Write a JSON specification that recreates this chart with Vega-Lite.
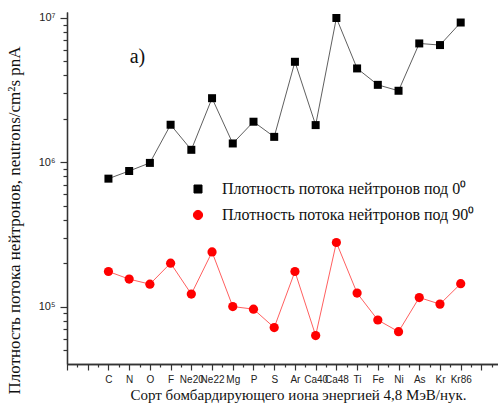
{
  "$schema": "https://vega.github.io/schema/vega-lite/v6.json",
  "autosize": {"type": "none"},
  "padding": {"left": 67, "top": 12, "right": 0, "bottom": 47},
  "width": 431,
  "height": 352,
  "background": "white",
  "config": {
    "view": {"stroke": null},
    "axis": {
      "grid": false,
      "domainColor": "#333",
      "domainWidth": 1.3,
      "tickColor": "#333",
      "tickWidth": 1.2,
      "labelFont": "Liberation Sans",
      "labelColor": "#222",
      "titleFont": "Liberation Serif",
      "titleFontWeight": "normal",
      "titleColor": "#111",
      "titleFontSize": 15
    },
    "legend": {
      "orient": "none",
      "legendX": 123,
      "legendY": 169,
      "title": null,
      "padding": 0,
      "symbolSize": 400,
      "symbolStrokeWidth": 1,
      "rowPadding": 10,
      "labelOffset": 16,
      "labelFont": "Liberation Serif",
      "labelFontSize": 16,
      "labelColor": "#111",
      "labelLimit": 400
    }
  },
  "datasets": {
    "flux": [
      {"n": 1, "ion": "C", "angle": "0", "flux": 770000},
      {"n": 2, "ion": "N", "angle": "0", "flux": 870000},
      {"n": 3, "ion": "O", "angle": "0", "flux": 990000},
      {"n": 4, "ion": "F", "angle": "0", "flux": 1820000},
      {"n": 5, "ion": "Ne20", "angle": "0", "flux": 1220000},
      {"n": 6, "ion": "Ne22", "angle": "0", "flux": 2780000},
      {"n": 7, "ion": "Mg", "angle": "0", "flux": 1350000},
      {"n": 8, "ion": "P", "angle": "0", "flux": 1910000},
      {"n": 9, "ion": "S", "angle": "0", "flux": 1500000},
      {"n": 10, "ion": "Ar", "angle": "0", "flux": 4970000},
      {"n": 11, "ion": "Ca40", "angle": "0", "flux": 1810000},
      {"n": 12, "ion": "Ca48", "angle": "0", "flux": 10000000},
      {"n": 13, "ion": "Ti", "angle": "0", "flux": 4470000},
      {"n": 14, "ion": "Fe", "angle": "0", "flux": 3440000},
      {"n": 15, "ion": "Ni", "angle": "0", "flux": 3130000},
      {"n": 16, "ion": "As", "angle": "0", "flux": 6660000},
      {"n": 17, "ion": "Kr", "angle": "0", "flux": 6490000},
      {"n": 18, "ion": "Kr86", "angle": "0", "flux": 9300000},
      {"n": 1, "ion": "C", "angle": "90", "flux": 175000},
      {"n": 2, "ion": "N", "angle": "90", "flux": 155000},
      {"n": 3, "ion": "O", "angle": "90", "flux": 143000},
      {"n": 4, "ion": "F", "angle": "90", "flux": 200000},
      {"n": 5, "ion": "Ne20", "angle": "90", "flux": 122000},
      {"n": 6, "ion": "Ne22", "angle": "90", "flux": 239000},
      {"n": 7, "ion": "Mg", "angle": "90", "flux": 100000},
      {"n": 8, "ion": "P", "angle": "90", "flux": 96000},
      {"n": 9, "ion": "S", "angle": "90", "flux": 71500},
      {"n": 10, "ion": "Ar", "angle": "90", "flux": 175000},
      {"n": 11, "ion": "Ca40", "angle": "90", "flux": 63000},
      {"n": 12, "ion": "Ca48", "angle": "90", "flux": 278000},
      {"n": 13, "ion": "Ti", "angle": "90", "flux": 124000},
      {"n": 14, "ion": "Fe", "angle": "90", "flux": 80700},
      {"n": 15, "ion": "Ni", "angle": "90", "flux": 67000},
      {"n": 16, "ion": "As", "angle": "90", "flux": 115500},
      {"n": 17, "ion": "Kr", "angle": "90", "flux": 104000},
      {"n": 18, "ion": "Kr86", "angle": "90", "flux": 144000}
    ]
  },
  "resolve": {"axis": {"x": "independent", "y": "independent"}},
  "layer": [
    {
      "data": {"name": "flux"},
      "mark": {"type": "line", "strokeWidth": 0.9, "strokeOpacity": 0.7},
      "encoding": {
        "x": {
          "field": "n",
          "type": "quantitative",
          "scale": {"domain": [-1, 19.8], "nice": false, "zero": false},
          "axis": {
            "orient": "bottom",
            "values": [-1, 0, 1, 2, 3, 4, 5, 6, 7, 8, 9, 10, 11, 12, 13, 14, 15, 16, 17, 18, 19],
            "tickSize": 6,
            "labelFontSize": 10,
            "labelPadding": 4,
            "labelOverlap": false,
            "labelFlush": false,
            "labelExpr": "datum.value >= 1 && datum.value <= 18 ? ['C','N','O','F','Ne20','Ne22','Mg','P','S','Ar','Ca40','Ca48','Ti','Fe','Ni','As','Kr','Kr86'][datum.value - 1] : ''",
            "title": "Сорт бомбардирующего иона энергией 4,8 МэВ/нук.",
            "titleX": 231,
            "titleY": 35,
            "titleAlign": "center",
            "titleBaseline": "alphabetic"
          }
        },
        "y": {
          "field": "flux",
          "type": "quantitative",
          "scale": {"type": "log", "domain": [40000, 11000000], "nice": false},
          "axis": {
            "orient": "left",
            "values": [100000, 1000000, 10000000],
            "tickSize": 7,
            "labelFontSize": 11,
            "labelPadding": 5,
            "labelExpr": "'10' + (datum.value == 100000 ? '⁵' : datum.value == 1000000 ? '⁶' : '⁷')",
            "title": "Плотность потока нейтронов, neutrons/cm²s pnA",
            "titleFontSize": 17,
            "titleX": -53,
            "titleY": 208,
            "titleAngle": -90,
            "titleAlign": "center",
            "titleBaseline": "middle"
          }
        },
        "color": {
          "field": "angle",
          "type": "nominal",
          "scale": {"domain": ["0", "90"], "range": ["black", "red"]},
          "legend": {
            "labelExpr": "'Плотность потока нейтронов под ' + datum.value + '⁰'"
          }
        }
      }
    },
    {
      "data": {"name": "flux"},
      "mark": {"type": "point", "filled": true, "opacity": 1},
      "encoding": {
        "x": {
          "field": "n",
          "type": "quantitative",
          "axis": {
            "orient": "bottom",
            "values": [-0.5, 0.5, 1.5, 2.5, 3.5, 4.5, 5.5, 6.5, 7.5, 8.5, 9.5, 10.5, 11.5, 12.5, 13.5, 14.5, 15.5, 16.5, 17.5, 18.5, 19.5],
            "tickSize": 3,
            "labels": false,
            "title": null
          }
        },
        "y": {
          "field": "flux",
          "type": "quantitative",
          "axis": {
            "orient": "left",
            "values": [50000, 60000, 70000, 80000, 90000, 200000, 300000, 400000, 500000, 600000, 700000, 800000, 900000, 2000000, 3000000, 4000000, 5000000, 6000000, 7000000, 8000000, 9000000],
            "tickSize": 4,
            "labels": false,
            "title": null
          }
        },
        "color": {
          "field": "angle",
          "type": "nominal",
          "legend": {
            "labelExpr": "'Плотность потока нейтронов под ' + datum.value + '⁰'"
          }
        },
        "shape": {
          "field": "angle",
          "type": "nominal",
          "scale": {"domain": ["0", "90"], "range": ["square", "circle"]},
          "legend": null
        },
        "size": {
          "field": "angle",
          "type": "nominal",
          "scale": {"domain": ["0", "90"], "range": [64, 85]},
          "legend": null
        }
      }
    },
    {
      "data": {"values": [{"tag": "a)", "n": 2.4, "flux": 4900000}]},
      "mark": {"type": "text", "font": "Liberation Serif", "fontSize": 20, "align": "center", "baseline": "alphabetic", "color": "#111"},
      "encoding": {
        "x": {"field": "n", "type": "quantitative", "axis": null},
        "y": {"field": "flux", "type": "quantitative", "axis": null},
        "text": {"field": "tag"}
      }
    }
  ]
}
